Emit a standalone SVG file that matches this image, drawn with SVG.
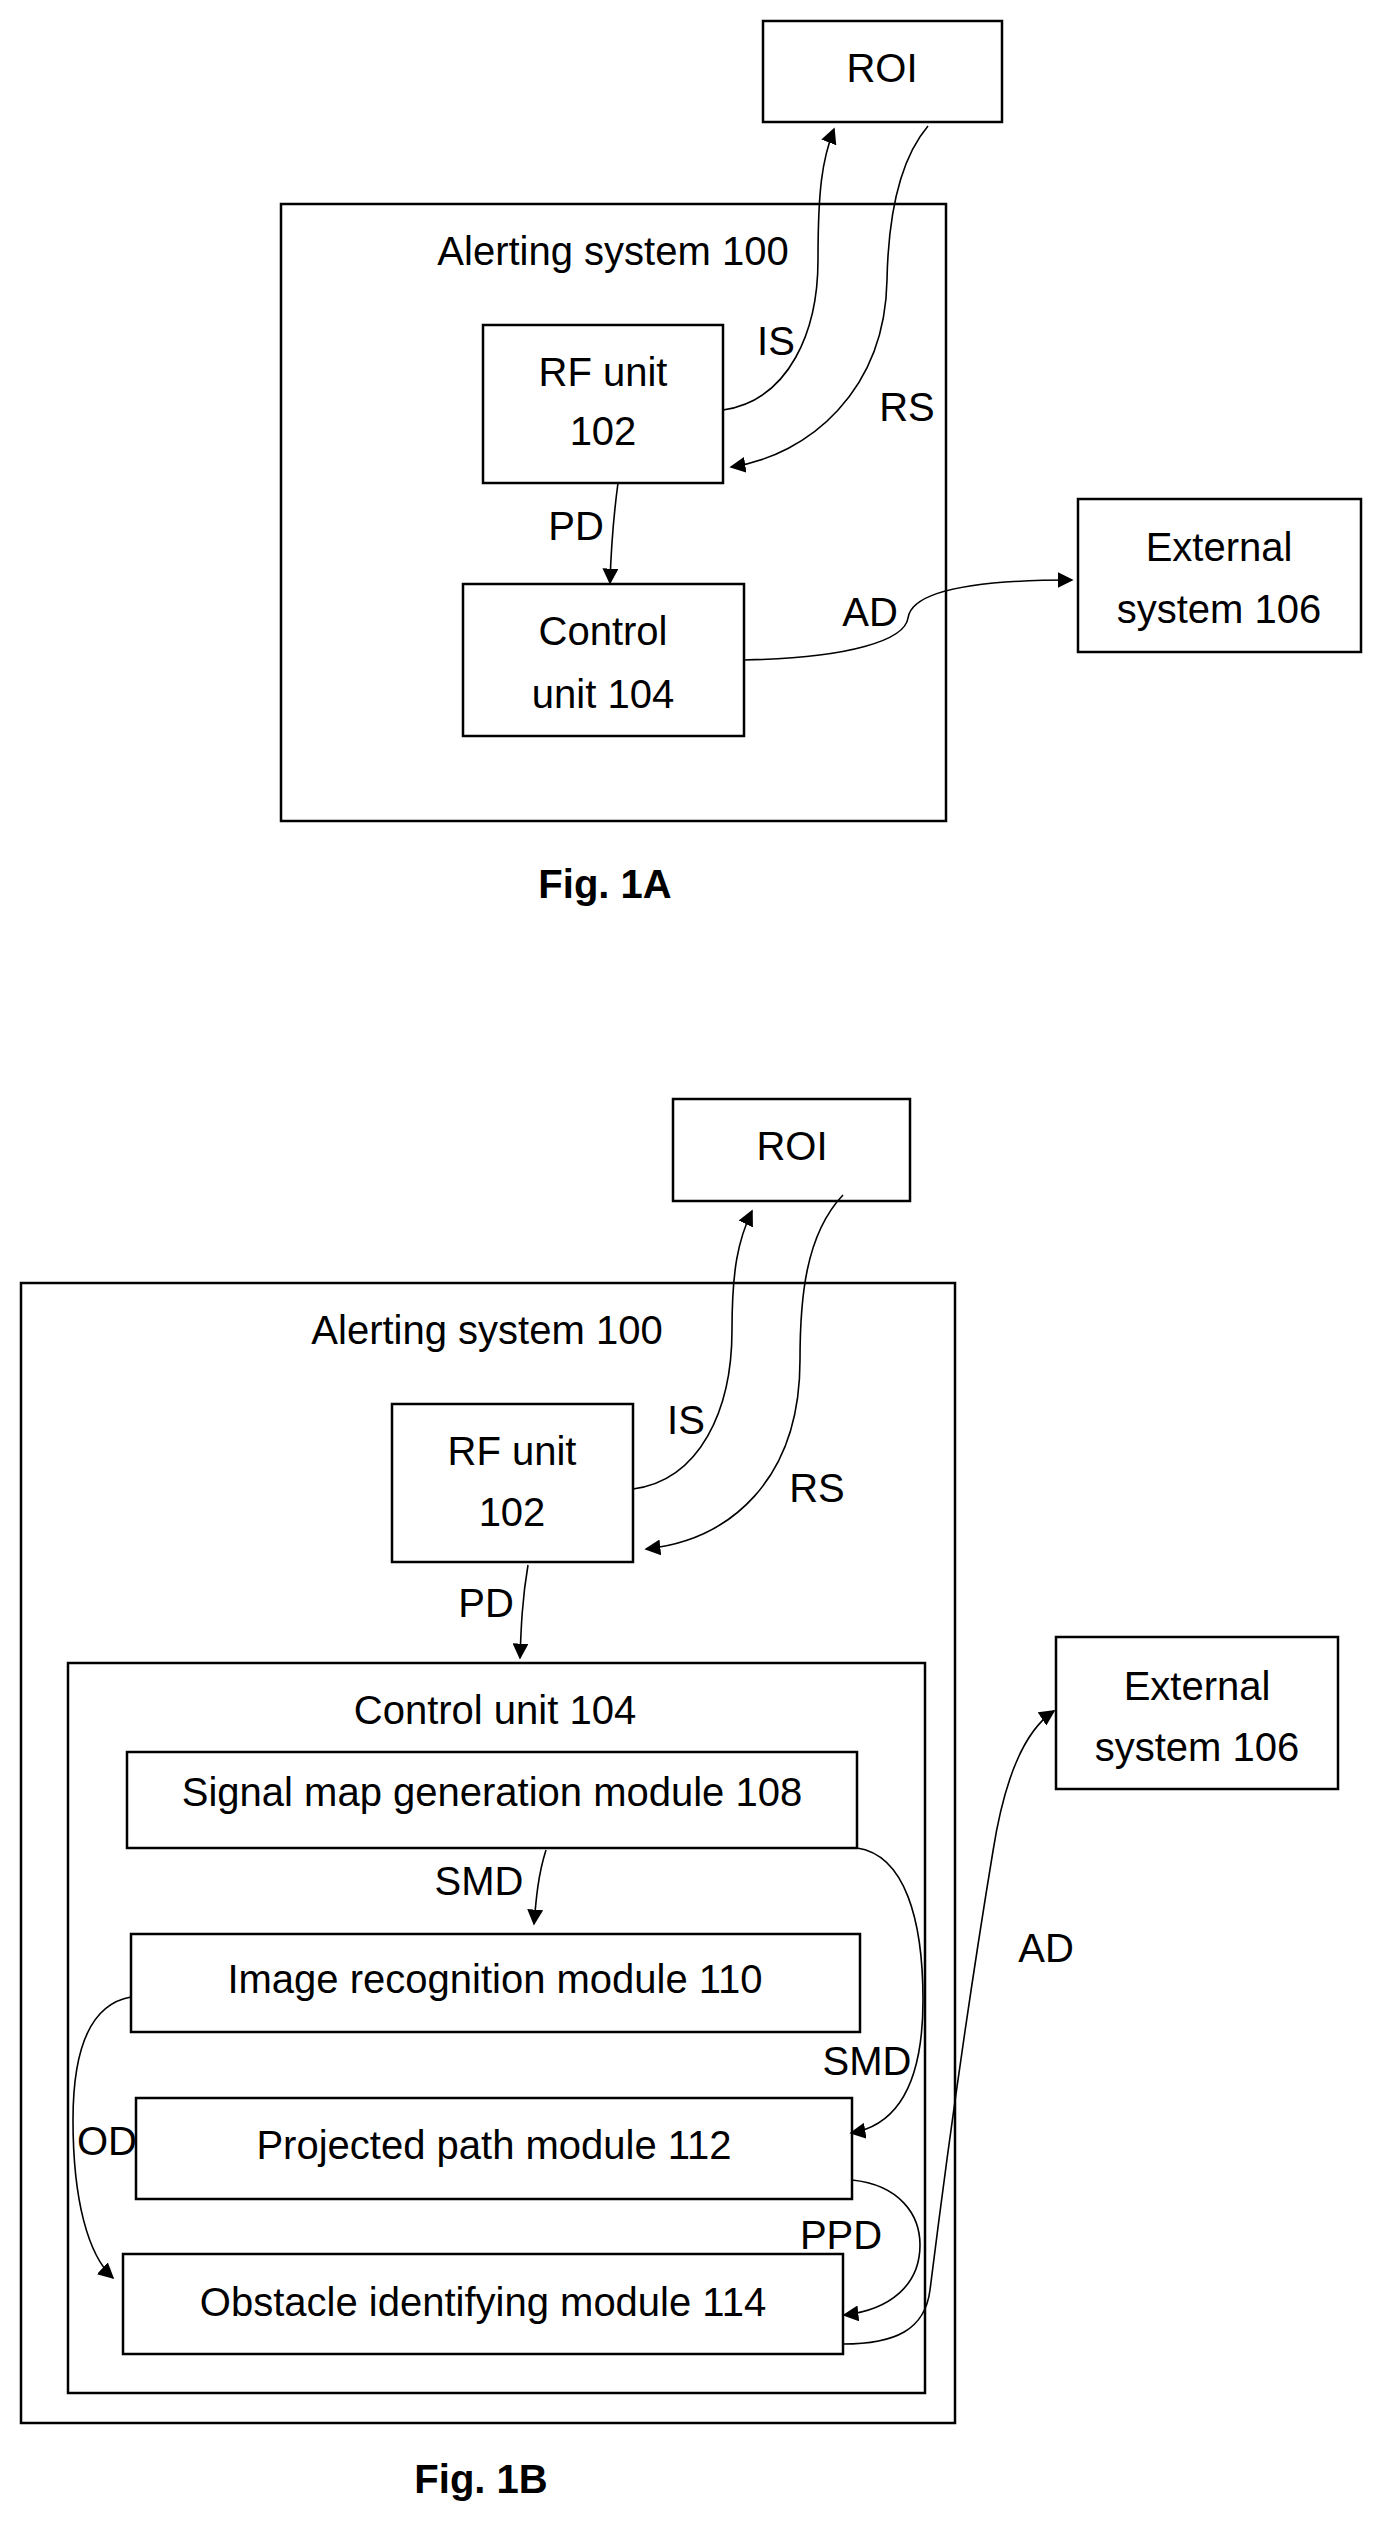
<svg xmlns="http://www.w3.org/2000/svg" width="1380" height="2524" viewBox="0 0 1380 2524">
<style>
rect{fill:#fff;stroke:#000;stroke-width:2.5}
text{font-family:"Liberation Sans",Arial,sans-serif;font-size:40px;fill:#000;text-anchor:middle;dominant-baseline:central}
.b{font-weight:bold}
.c path{fill:none;stroke:#000;stroke-width:1.6;marker-end:url(#ah)}
</style>
<defs><marker id="ah" viewBox="0 0 10 10" refX="9" refY="5" markerWidth="16" markerHeight="16" markerUnits="userSpaceOnUse" orient="auto"><path d="M0,0L10,5L0,10z" fill="#000"/></marker></defs>
<rect width="1380" height="2524" style="fill:#fff;stroke:none"/>
<g id="alert1"><rect x="281" y="204" width="665" height="617"/><text x="613" y="251">Alerting system 100</text></g>
<g id="roi1"><rect x="763" y="21" width="239" height="101"/><text x="882" y="68">ROI</text></g>
<g id="rf1"><rect x="483" y="325" width="240" height="158"/><text x="603" y="372">RF unit</text><text x="603" y="431">102</text></g>
<g id="cu1"><rect x="463" y="584" width="281" height="152"/><text x="603" y="631">Control</text><text x="603" y="694">unit 104</text></g>
<g id="ext1"><rect x="1078" y="499" width="283" height="153"/><text x="1219" y="547">External</text><text x="1219" y="609">system 106</text></g>
<text class="b" x="605" y="884">Fig. 1A</text>
<g class="c">
<path d="M723,410 C790,400 818,330 818,260 C818,190 822,160 834,129"/>
<path d="M928,126 C895,165 888,230 887,280 C885,390 810,455 731,467"/>
<path d="M618,483 C613,520 611,550 610,583"/>
<path d="M744,660 C850,658 905,640 908,618 C912,590 980,580 1072,580"/>
</g>
<text x="776" y="341">IS</text><text x="907" y="407">RS</text>
<text x="576" y="526">PD</text><text x="870" y="612">AD</text>

<g id="alert2"><rect x="21" y="1283" width="934" height="1140"/><text x="487" y="1330">Alerting system 100</text></g>
<g id="roi2"><rect x="673" y="1099" width="237" height="102"/><text x="792" y="1146">ROI</text></g>
<g id="rf2"><rect x="392" y="1404" width="241" height="158"/><text x="512" y="1451">RF unit</text><text x="512" y="1512">102</text></g>
<g id="cu2"><rect x="68" y="1663" width="857" height="730"/><text x="495" y="1710">Control unit 104</text></g>
<g id="sm"><rect x="127" y="1752" width="730" height="96"/><text x="492" y="1792">Signal map generation module 108</text></g>
<g id="ir"><rect x="131" y="1934" width="729" height="98"/><text x="495" y="1979">Image recognition module 110</text></g>
<g id="pp"><rect x="136" y="2098" width="716" height="101"/><text x="494" y="2145">Projected path module 112</text></g>
<g id="ob"><rect x="123" y="2254" width="720" height="100"/><text x="483" y="2302">Obstacle identifying module 114</text></g>
<g id="ext2"><rect x="1056" y="1637" width="282" height="152"/><text x="1197" y="1686">External</text><text x="1197" y="1747">system 106</text></g>
<text class="b" x="481" y="2479">Fig. 1B</text>
<g class="c">
<path d="M633,1489 C700,1480 732,1410 732,1330 C732,1270 738,1240 752,1211"/>
<path d="M843,1195 C805,1235 800,1300 800,1360 C800,1480 730,1540 646,1549"/>
<path d="M528,1565 C522,1600 521,1630 520,1658"/>
<path d="M546,1850 C538,1875 536,1900 534,1924"/>
<path d="M857,1848 C905,1855 923,1920 923,2000 C923,2080 900,2125 851,2133"/>
<path d="M131,1997 C85,2005 73,2060 73,2120 C73,2200 88,2255 113,2278"/>
<path d="M852,2180 C900,2185 920,2215 920,2245 C920,2285 890,2310 844,2315"/>
<path d="M843,2344 C895,2344 925,2330 930,2290 C950,2130 975,1960 993,1851 C1005,1775 1025,1730 1054,1711"/>
</g>
<text x="686" y="1420">IS</text><text x="817" y="1488">RS</text>
<text x="486" y="1603">PD</text><text x="479" y="1881">SMD</text>
<text x="867" y="2061">SMD</text><text x="107" y="2141">OD</text>
<text x="841" y="2235">PPD</text><text x="1046" y="1948">AD</text>
</svg>
